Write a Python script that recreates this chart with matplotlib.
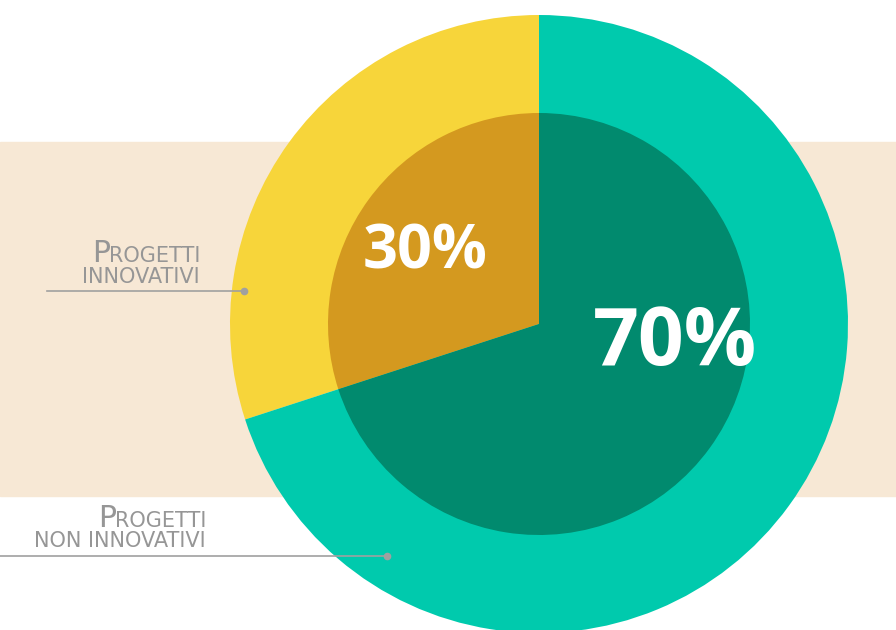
import matplotlib
matplotlib.use('Agg')
import matplotlib.pyplot as plt

# data
labels = ['Progetti innovativi', 'Progetti non innovativi']
values = [30, 70]
pct_text = ['30%', '70%']
outer_colors = ['#F7D53A', '#00CAAD']
inner_colors = ['#D4991F', '#018A6E']

W, H = 896, 630
fig = plt.figure(figsize=(W / 100, H / 100), dpi=100)
ax = fig.add_axes([0, 0, 1, 1])

# beige band behind the chart
ax.axhspan(H - 496, H - 142, color='#F7E8D5', zorder=0)

cx, cy = 539, H - 324
ax.pie(values, colors=outer_colors, startangle=90, counterclock=True,
       radius=309, center=(cx, cy), frame=True,
       wedgeprops=dict(linewidth=0, zorder=2))
ax.pie(values, colors=inner_colors, startangle=90, counterclock=True,
       radius=211, center=(cx, cy), frame=True,
       wedgeprops=dict(linewidth=0, zorder=3))
ax.set_xlim(0, W)
ax.set_ylim(0, H)
ax.set_aspect('equal')
ax.axis('off')

# percentages
ax.text(425, H - 253, pct_text[0], color='white', fontsize=44, fontweight='bold',
        family='Open Sans', ha='center', va='center', zorder=5)
ax.text(675, H - 344, pct_text[1], color='white', fontsize=58, fontweight='bold',
        family='Open Sans', ha='center', va='center', zorder=5)

grey = '#969696'
fig.canvas.draw()
renderer = fig.canvas.get_renderer()


def small_caps_label(x_right, y_first, y_second, second, line_y, x0, x1):
    t = ax.text(x_right, H - y_first, 'ROGETTI', color=grey, fontsize=15,
                family='DejaVu Sans', ha='right', va='baseline', zorder=5)
    bb = t.get_window_extent(renderer)
    xl = ax.transData.inverted().transform((bb.x0, bb.y0))[0]
    ax.text(xl + 1, H - y_first, 'P', color=grey, fontsize=21.5, family='DejaVu Sans',
            ha='right', va='baseline', zorder=5)
    ax.text(x_right, H - y_second, second, color=grey, fontsize=15,
            family='DejaVu Sans', ha='right', va='baseline', zorder=5)
    ax.plot([x0, x1], [H - line_y, H - line_y], color='#A0A0A0', lw=1.2, zorder=6)
    ax.plot([x1], [H - line_y], 'o', color='#A0A0A0', ms=4.5, zorder=6)


small_caps_label(200, 262, 283, 'INNOVATIVI', 291, 47, 244)
small_caps_label(206, 527, 547, 'NON INNOVATIVI', 556, 0, 387)

fig.savefig('out.png', dpi=100)
